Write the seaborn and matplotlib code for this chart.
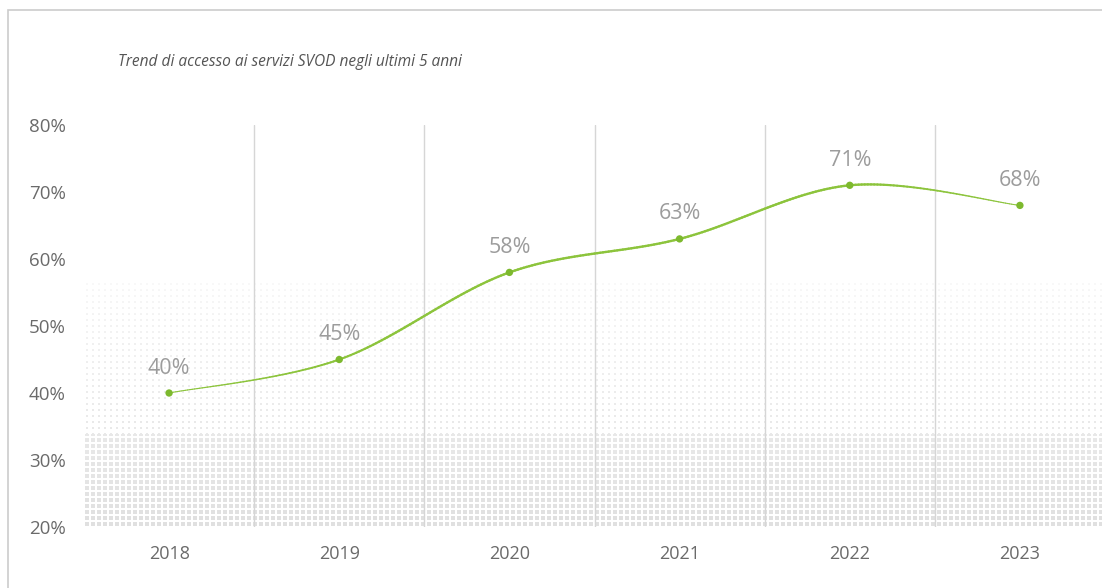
import numpy as np
import pandas as pd
import matplotlib
matplotlib.use("Agg")
import matplotlib.pyplot as plt
import seaborn as sns
from matplotlib.collections import LineCollection
from matplotlib.patches import Rectangle

# ---- data ----
years = ["2018", "2019", "2020", "2021", "2022", "2023"]
values = [40, 45, 58, 63, 71, 68]
y_ticks = [20, 30, 40, 50, 60, 70, 80]
title = "Trend di accesso ai servizi SVOD negli ultimi 5 anni"

sns.set_theme(style="white")
plt.rcParams["font.family"] = ["Open Sans", "DejaVu Sans"]

W, H = 1102, 588
fig = plt.figure(figsize=(W / 100, H / 100), dpi=100)
ax_l, ax_r, ax_t, ax_b = 84, 1105, 125, 527
ax = fig.add_axes([ax_l / W, 1 - ax_b / H, (ax_r - ax_l) / W, (ax_b - ax_t) / H])

xs = np.arange(len(years))
df = pd.DataFrame({"x": xs, "value": values, "year": years})

# ---- dotted gradient background (decoration) ----
ph, pw = ax_b - ax_t, ax_r - ax_l
img = np.zeros((ph, pw, 4))
pitch = 6
start = 282 - ax_t
R, C = np.meshgrid(np.arange(ph), np.arange(pw), indexing="ij")
t = np.clip((R - start) / (ph - start), 0, 1)
half = 0.5 + 1.0 * (t > 0.62)
dy = np.abs((R % pitch) - (pitch - 1) / 2)
dx = np.abs((C % pitch) - (pitch - 1) / 2)
inside = (dx <= half) & (dy <= half) & (R >= start)
gray = 0.93 - 0.05 * t
img[..., 0] = gray
img[..., 1] = gray
img[..., 2] = gray
img[..., 3] = np.where(inside, 0.3 + 0.7 * np.sqrt(t), 0)
ax.imshow(img, extent=(-0.5, len(years) - 0.5, y_ticks[0], y_ticks[-1]),
          aspect="auto", origin="upper", interpolation="nearest", zorder=0)

# ---- smooth curve (Catmull-Rom through the data points) ----
px = np.concatenate([[xs[0]], xs, [xs[-1]]]).astype(float)
py = np.concatenate([[values[0]], values, [values[-1]]]).astype(float)
cx, cy = [], []
for i in range(1, len(px) - 2):
    p0, p1, p2, p3 = py[i - 1], py[i], py[i + 1], py[i + 2]
    q0, q1, q2, q3 = px[i - 1], px[i], px[i + 1], px[i + 2]
    s = np.linspace(0, 1, 60, endpoint=(i == len(px) - 3))
    def cr(a0, a1, a2, a3):
        return 0.5 * ((2 * a1) + (-a0 + a2) * s + (2 * a0 - 5 * a1 + 4 * a2 - a3) * s ** 2
                      + (-a0 + 3 * a1 - 3 * a2 + a3) * s ** 3)
    cx.append(cr(q0, q1, q2, q3))
    cy.append(cr(p0, p1, p2, p3))
cx = np.concatenate(cx)
cy = np.concatenate(cy)

pts = np.column_stack([cx, cy]).reshape(-1, 1, 2)
segs = np.concatenate([pts[:-1], pts[1:]], axis=1)
mid = (cx[:-1] + cx[1:]) / 2
n = len(years) - 1
widths = 0.7 + 1.0 * np.clip(np.minimum(mid / 1.3, (n - mid) / 0.9), 0, 1)
lc = LineCollection(segs, linewidths=widths, colors="#8cc43c", zorder=3,
                    capstyle="round")
ax.add_collection(lc)

sns.scatterplot(data=df, x="x", y="value", ax=ax, color="#7db92e", s=28,
                edgecolor="none", zorder=4, legend=False)

for x, v in zip(xs, values):
    ax.annotate(f"{v}%", (x, v), xytext=(0, 18), textcoords="offset points",
                ha="center", va="center", fontsize=15.5, color="#9c9c9c", zorder=5)

# ---- axes styling ----
ax.set_xlim(-0.5, len(years) - 0.5)
ax.set_ylim(y_ticks[0], y_ticks[-1])
ax.set_xticks(xs)
ax.set_xticklabels(years)
ax.set_yticks(y_ticks)
ax.set_yticklabels([f"{v}%" for v in y_ticks])
ax.set_xticks(np.arange(0.5, len(years) - 1, 1), minor=True)
ax.grid(False)
ax.grid(True, which="minor", axis="x", color="#d6d6d6", lw=1, zorder=1)
ax.tick_params(axis="x", which="both", length=0, pad=13, labelsize=13, labelcolor="#6a6a6a")
ax.tick_params(axis="y", length=0, pad=13, labelsize=13.5, labelcolor="#6a6a6a")
ax.set_xlabel("")
ax.set_ylabel("")
for sp in ax.spines.values():
    sp.set_visible(False)
ax.set_facecolor("none")

fig.text(118 / W, 1 - 62 / H, title, fontsize=11.2, style="italic", color="#555555",
         ha="left", va="center")

fig.add_artist(Rectangle((8 / W, -0.1), 2, (H - 10) / H + 0.1, transform=fig.transFigure,
                         fill=False, ec="#cccccc", lw=1.2))

fig.savefig("out.png", dpi=100)
